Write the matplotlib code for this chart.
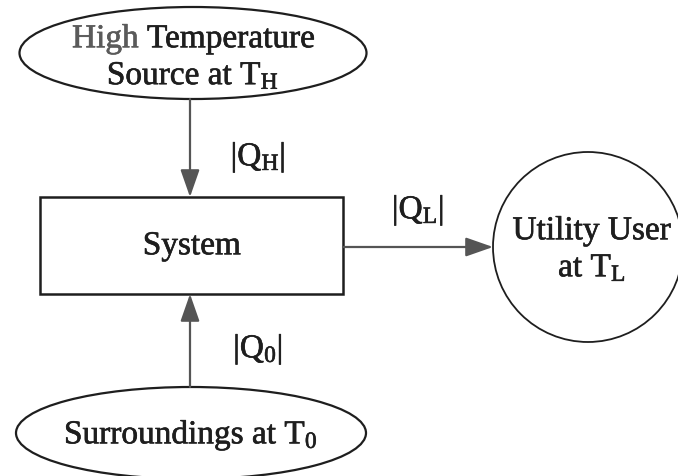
import matplotlib
matplotlib.use("Agg")
import matplotlib.pyplot as plt
import matplotlib.patheffects as pe
from matplotlib.patches import Ellipse, Rectangle, Circle, FancyArrowPatch

plt.rcParams['font.family'] = ['Liberation Serif', 'DejaVu Serif']
plt.rcParams['mathtext.fontset'] = 'custom'
plt.rcParams['mathtext.rm'] = 'Liberation Serif'
plt.rcParams['mathtext.it'] = 'Liberation Serif'

# node labels
source_label = ["High", "Temperature", r"Source at T$_{\mathrm{H}}$"]
system_label = "System"
user_label = ["Utility User", r"at T$_{\mathrm{L}}$"]
surround_label = r"Surroundings at T$_{\mathrm{0}}$"
# heat flow labels
flow_labels = [r"|Q$_{\mathrm{H}}$|", r"|Q$_{\mathrm{L}}$|", r"|Q$_{\mathrm{0}}$|"]

ink = "#1e1e1e"
faded = "#5a5a5a"
arrow_col = "#555555"
fs = 24

fig = plt.figure(figsize=(6.78, 4.77), dpi=100)
ax = fig.add_axes([0, 0, 1, 1])
ax.set_xlim(0, 678)
ax.set_ylim(477, 0)
ax.axis('off')

# shapes (pixel coordinates)
ax.add_patch(Ellipse((193, 54), 347, 92, fill=False, ec=ink, lw=1.6))
ax.add_patch(Rectangle((40, 198), 303, 97, fill=False, ec=ink, lw=1.8))
ax.add_patch(Circle((588, 248), 95, fill=False, ec=ink, lw=1.3))
ax.add_patch(Ellipse((191, 434), 350, 92, fill=False, ec=ink, lw=1.6))

def arrow(p0, p1):
    ax.add_patch(FancyArrowPatch(p0, p1, arrowstyle='-|>,head_length=1.2,head_width=0.42',
                                 mutation_scale=14, color=arrow_col, lw=1.6,
                                 shrinkA=0, shrinkB=0))

arrow((190, 100), (190, 198))
arrow((343, 248), (493, 248))
arrow((190, 388), (190, 295))

def label(x, y, s, color=ink, **kw):
    # thin stroke to mimic the heavy scanned print
    eff = [pe.withStroke(linewidth=0.45, foreground=color)]
    return ax.text(x, y, s, va='center', fontsize=fs, color=color,
                   path_effects=eff, **kw)

# "High Temperature": first word printed fainter in the scan
x0, x1 = 72, 315
label(x0, 40, source_label[0], color=faded, ha='left')
label(x1, 40, source_label[1], ha='right')
label(193, 77, source_label[2], ha='center')
label(192, 247, system_label, ha='center')
label(592, 232, user_label[0], ha='center')
label(592, 269, user_label[1], ha='center')
label(191, 436, surround_label, ha='center')
label(258, 158, flow_labels[0], ha='center')
label(418, 211, flow_labels[1], ha='center')
label(258, 350, flow_labels[2], ha='center')

fig.savefig("out.png", dpi=100)
